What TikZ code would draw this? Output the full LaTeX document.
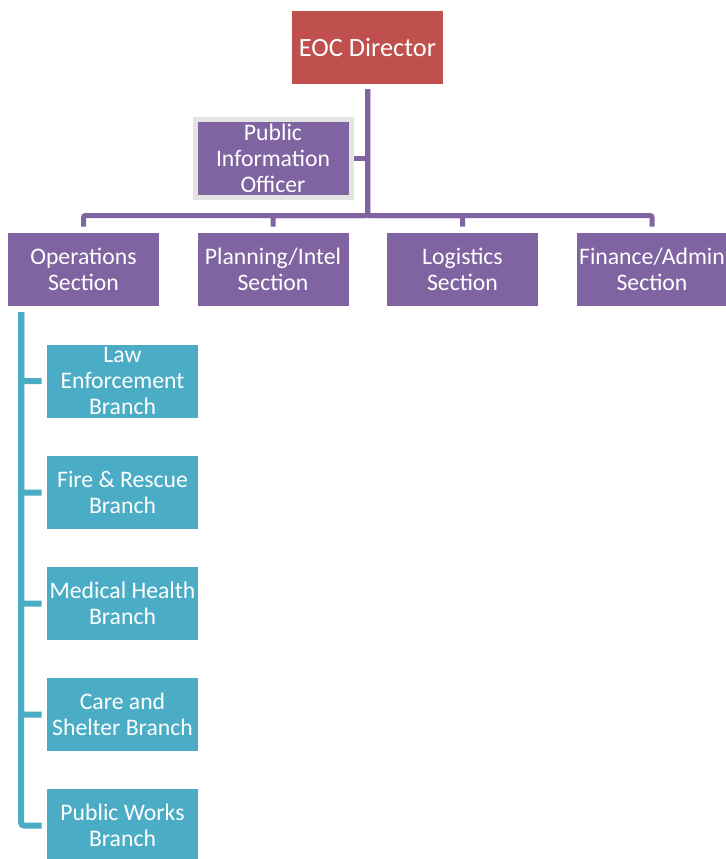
\documentclass[tikz,border=0pt]{standalone}
\usepackage{fontspec}
\setmainfont{Carlito}
\definecolor{eocred}{HTML}{C0504D}
\definecolor{eocpurple}{HTML}{8064A2}
\definecolor{eocteal}{HTML}{4BACC6}
\definecolor{eocgray}{HTML}{E4E4E4}
\begin{document}
\begin{tikzpicture}[x=0.5pt,y=-0.5pt]
                \tikzstyle{box}=[rectangle,text=white,minimum width=75.5pt,minimum height=36.5pt,inner sep=0pt,align=center,font=\fontsize{11.85}{13}\selectfont]
                \tikzstyle{section}=[box,fill=eocpurple]
                \tikzstyle{branch}=[box,fill=eocteal]
                \tikzstyle{pline}=[draw=eocpurple,line width=2.5pt,rounded corners=1pt]
                \tikzstyle{tline}=[draw=eocteal,line width=3pt,rounded corners=1.5pt]
                \clip (0,0) rectangle (726,859);
                \useasboundingbox (0,0) rectangle (726,859);

                \node[box,fill=eocred,font=\fontsize{13.2}{15}\selectfont] (D) at (367.5,47.5) {EOC Director};
                \node[section,preaction={draw=eocgray,line width=5pt,rounded corners=2pt}] (PIO) at (273,158.5) {Public\\Information\\Officer};

                \node[section] (ops) at (83.5,269.5) {Operations\\Section};
                \node[section] (plan) at (273,269.5) {Planning/Intel\\Section};
                \node[section] (log) at (462.5,269.5) {Logistics\\Section};
                \node[section] (fin) at (652,269.5) {Finance/Admin\\Section};

                \foreach \num/\y/\txt in {law/381/{Law\\Enforcement\\Branch}, fire/492.5/{Fire \& Rescue\\Branch}, med/603.5/{Medical Health\\Branch}, care/714.5/{Care and\\Shelter Branch}, works/825.5/{Public Works\\Branch}}
                        \node[branch] (B-\num) at (122.5,\y) {\txt};

                    \coordinate (bus) at (367.5,215.5);
                    \coordinate (spine) at (21,312);

                    \foreach \to in {ops, plan, log, fin}
                        \draw[pline,shorten <=2.5pt,shorten >=3pt] (D.south) -- (bus) -| (\to.north);

                    \draw[pline,shorten <=2.5pt] (PIO.east) -- (PIO.east -| bus);

                    \foreach \to in {law, fire, med, care, works}
                        \draw[tline,shorten >=2.5pt] (spine) |- (B-\to.west);

            \end{tikzpicture}
\end{document}
